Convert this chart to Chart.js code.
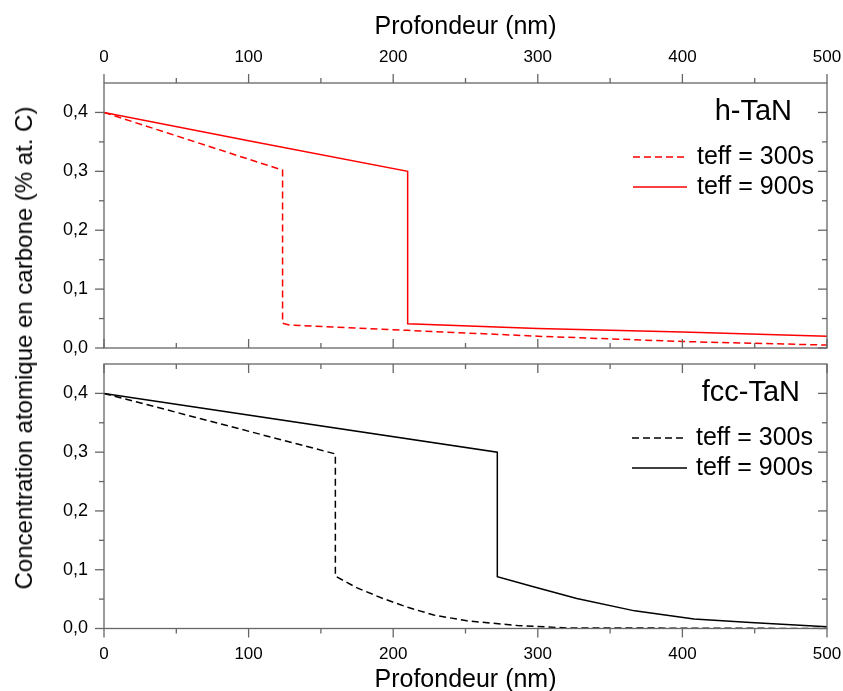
<!DOCTYPE html>
<html>
<head>
<meta charset="utf-8">
<script src="https://cdn.jsdelivr.net/npm/chart.js@4/dist/chart.umd.min.js"></script>
<style>
  html, body { margin: 0; padding: 0; background: #fff; overflow: hidden; }
  #page { position: relative; width: 843px; height: 691px; }
  #chart-top { position: absolute; left: 0; top: 0; }
  #chart-bottom { position: absolute; left: 0; top: 352px; }
  #y-title {
    position: absolute; left: 24px; top: 348px;
    transform: translate(-50%, -50%) rotate(-90deg);
    white-space: nowrap;
    font: 24px "Liberation Sans", Arial, sans-serif;
    color: #000;
  }
</style>
</head>
<body>
<div id="page">
  <canvas id="chart-top" width="843" height="360"></canvas>
  <canvas id="chart-bottom" width="843" height="348"></canvas>
  <div id="y-title">Concentration atomique en carbone (% at. C)</div>
</div>
<script>
// Axis ranges and tick labels
const X_TICK_LABELS = [0, 100, 200, 300, 400, 500];
const Y_TICK_LABELS = [0.0, 0.1, 0.2, 0.3, 0.4];
const X_TITLE = 'Profondeur (nm)';
const SERIES_LABELS = ['teff = 300s', 'teff = 900s'];

// h-TaN (top panel)
const hTaN300Depth = [0, 123.5, 123.5, 128, 210, 300, 400, 500];
const hTaN300Conc  = [0.400, 0.302, 0.042, 0.039, 0.030, 0.020, 0.011, 0.005];
const hTaN900Depth = [0, 100, 210, 210, 300, 400, 500];
const hTaN900Conc  = [0.400, 0.352, 0.300, 0.041, 0.033, 0.027, 0.020];

// fcc-TaN (bottom panel)
const fccTaN300Depth = [0, 160, 160, 175, 193, 210, 228, 251, 286, 320, 500];
const fccTaN300Conc  = [0.400, 0.297, 0.089, 0.069, 0.051, 0.036, 0.023, 0.013, 0.005, 0.001, 0.000];
const fccTaN900Depth = [0, 272, 272, 297, 327, 367, 408, 447, 500];
const fccTaN900Conc  = [0.400, 0.300, 0.088, 0.071, 0.051, 0.030, 0.016, 0.010, 0.003];

const FONT = '"Liberation Sans", Arial, sans-serif';
const AXIS_COLOR = '#666';
Chart.defaults.font.family = FONT;
Chart.defaults.color = '#000';

const toPoints = (xs, ys) => xs.map((x, i) => ({ x: x, y: ys[i] }));
const isMultiple = (v, step) => Math.abs(v / step - Math.round(v / step)) < 1e-6;

// Frame, inner/outer ticks, panel label and legend
const panelDecor = {
    id: 'panelDecor',
    afterDraw(chart, args, opts) {
        const { ctx, chartArea: a } = chart;
        const x = chart.scales.x;
        const y = chart.scales.y;
        const line = (x1, y1, x2, y2) => {
            ctx.beginPath();
            ctx.moveTo(x1, y1);
            ctx.lineTo(x2, y2);
            ctx.stroke();
        };

        ctx.save();
        ctx.strokeStyle = AXIS_COLOR;
        ctx.lineWidth = 1.3;
        ctx.strokeRect(a.left, a.top, a.right - a.left, a.bottom - a.top);

        const dir = opts.xLabelsOnTop ? -1 : 1;
        const outerY = opts.xLabelsOnTop ? a.top : a.bottom;
        const innerY = opts.xLabelsOnTop ? a.bottom : a.top;
        x.ticks.forEach(t => {
            const px = x.getPixelForValue(t.value);
            const len = isMultiple(t.value, 100) ? 9 : 5;
            line(px, outerY, px, outerY + dir * len);
            line(px, innerY, px, innerY + dir * len);
        });
        y.ticks.forEach(t => {
            if (t.value > 0.44) return;
            const py = y.getPixelForValue(t.value);
            const len = isMultiple(t.value, 0.1) ? 9 : 5;
            line(a.left, py, a.left - len, py);
            line(a.right, py, a.right - len, py);
        });

        // panel label
        ctx.fillStyle = '#000';
        ctx.font = '29px ' + FONT;
        ctx.textAlign = 'right';
        ctx.textBaseline = 'middle';
        ctx.fillText(opts.label, opts.labelRight, a.top + 29);

        // legend
        ctx.font = '25px ' + FONT;
        ctx.textAlign = 'left';
        chart.data.datasets.forEach((ds, i) => {
            const ly = a.top + opts.legendRows[i];
            ctx.strokeStyle = ds.borderColor;
            ctx.lineWidth = ds.borderWidth;
            ctx.setLineDash(ds.borderDash || []);
            line(opts.legendX1, ly, opts.legendX2, ly);
            ctx.setLineDash([]);
            ctx.fillText(ds.label, opts.legendText, ly);
        });
        ctx.restore();
    }
};

function buildConfig(series, color, panel) {
    return {
        type: 'line',
        data: {
            datasets: [
                {
                    label: SERIES_LABELS[0],
                    data: series[0],
                    borderColor: color,
                    borderWidth: 1.5,
                    borderDash: [7, 4],
                    pointRadius: 0,
                    tension: 0
                },
                {
                    label: SERIES_LABELS[1],
                    data: series[1],
                    borderColor: color,
                    borderWidth: 1.5,
                    pointRadius: 0,
                    tension: 0
                }
            ]
        },
        options: {
            responsive: false,
            devicePixelRatio: 1,
            animation: false,
            layout: { padding: panel.padding },
            plugins: {
                legend: { display: false },
                tooltip: { enabled: false },
                panelDecor: panel.decor
            },
            scales: {
                x: {
                    type: 'linear',
                    position: panel.xPosition,
                    min: 0,
                    max: 500,
                    grid: { display: false, drawTicks: false },
                    border: { display: false },
                    ticks: {
                        stepSize: 50,
                        autoSkip: false,
                        maxRotation: 0,
                        padding: panel.xTickPadding,
                        font: { size: 17 },
                        callback: v => X_TICK_LABELS.includes(v) ? String(v) : ''
                    },
                    title: {
                        display: true,
                        text: X_TITLE,
                        font: { size: 25 },
                        padding: panel.xTitlePadding
                    },
                    afterFit: s => {
                        s.height = panel.xHeight;
                        s.paddingLeft = 0;
                        s.paddingRight = 0;
                    }
                },
                y: {
                    min: 0,
                    max: 0.45,
                    grid: { display: false, drawTicks: false },
                    border: { display: false },
                    ticks: {
                        stepSize: 0.05,
                        autoSkip: false,
                        padding: 16,
                        font: { size: 18 },
                        callback: v => Y_TICK_LABELS.some(t => Math.abs(t - v) < 1e-6) ? v.toFixed(1).replace('.', ',') : ''
                    },
                    afterFit: s => {
                        s.width = 104;
                        s.paddingTop = 0;
                        s.paddingBottom = 0;
                    }
                }
            }
        },
        plugins: [panelDecor]
    };
}

new Chart(document.getElementById('chart-top'), buildConfig(
    [toPoints(hTaN300Depth, hTaN300Conc), toPoints(hTaN900Depth, hTaN900Conc)],
    '#ff0000',
    {
        padding: { left: 0, right: 16, top: 0, bottom: 12 },
        xPosition: 'top',
        xTickPadding: 15,
        xTitlePadding: { top: 12, bottom: 0 },
        xHeight: 83,
        decor: {
            xLabelsOnTop: true,
            label: 'h-TaN',
            labelRight: 792,
            legendRows: [74, 104],
            legendX1: 633,
            legendX2: 687,
            legendText: 697
        }
    }
));

new Chart(document.getElementById('chart-bottom'), buildConfig(
    [toPoints(fccTaN300Depth, fccTaN300Conc), toPoints(fccTaN900Depth, fccTaN900Conc)],
    '#000000',
    {
        padding: { left: 0, right: 16, top: 12, bottom: 0 },
        xPosition: 'bottom',
        xTickPadding: 16,
        xTitlePadding: { top: 0, bottom: 5 },
        xHeight: 71.5,
        decor: {
            xLabelsOnTop: false,
            label: 'fcc-TaN',
            labelRight: 800,
            legendRows: [74, 104],
            legendX1: 632,
            legendX2: 687,
            legendText: 696
        }
    }
));
</script>
</body>
</html>
